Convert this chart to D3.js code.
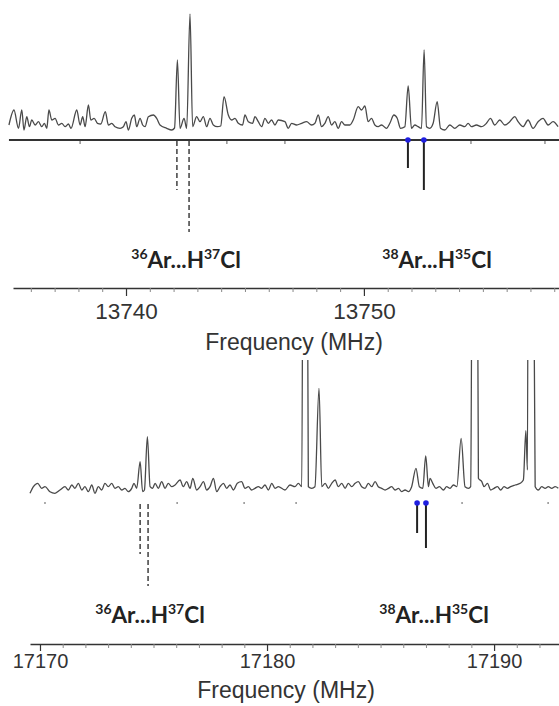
<!DOCTYPE html>
<html>
<head>
<meta charset="utf-8">
<script src="https://cdn.jsdelivr.net/npm/d3@7/dist/d3.min.js"></script>
<style>
body { margin: 0; background: #fff; }
svg { display: block; }
</style>
</head>
<body>
<script>
// spectrum near 13.74 GHz : [frequency MHz, intensity]
var topSpectrum = [
  [13735.08,1.5],[13735.29,3.0],[13735.48,1.17],[13735.62,3.0],[13735.71,1.0],[13735.83,2.33],
  [13735.94,1.33],[13736.04,2.0],[13736.18,1.5],[13736.32,1.83],[13736.46,1.33],[13736.57,1.67],
  [13736.67,1.17],[13736.76,3.0],[13736.88,2.0],[13737.02,2.17],[13737.16,1.5],[13737.30,1.67],
  [13737.44,1.33],[13737.58,1.6],[13737.69,1.17],[13737.93,3.0],[13738.07,1.5],[13738.18,2.33],
  [13738.28,1.33],[13738.42,3.5],[13738.52,2.0],[13738.66,2.17],[13738.80,1.67],[13738.94,1.6],
  [13739.13,2.83],[13739.26,1.5],[13739.40,1.67],[13739.54,1.33],[13739.75,1.17],[13739.89,1.33],
  [13740.00,1.83],[13740.10,1.0],[13740.24,2.17],[13740.35,2.5],[13740.45,1.33],[13740.59,2.17],
  [13740.70,1.5],[13740.80,1.33],[13740.94,2.33],[13741.15,2.5],[13741.29,2.17],[13741.43,1.5],
  [13741.71,1.17],[13741.92,1.0],[13742.04,1.2],[13742.16,8.0],[13742.27,1.17],[13742.44,2.17],
  [13742.55,1.17],[13742.69,12.6],[13742.80,1.33],[13742.97,2.33],[13743.11,1.83],[13743.25,2.33],
  [13743.39,1.33],[13743.53,2.17],[13743.67,1.5],[13743.84,1.33],[13743.98,1.4],[13744.12,4.33],
  [13744.30,2.5],[13744.44,2.0],[13744.58,2.17],[13744.72,1.67],[13744.90,1.5],[13745.00,2.5],
  [13745.14,1.83],[13745.32,1.67],[13745.42,2.33],[13745.56,1.83],[13745.70,1.33],[13745.84,2.17],
  [13745.98,1.67],[13746.12,2.0],[13746.26,1.5],[13746.40,2.0],[13746.68,1.83],[13746.82,1.17],
  [13746.96,1.67],[13747.17,1.5],[13747.38,1.67],[13747.59,1.83],[13747.80,1.5],[13747.94,1.67],
  [13748.08,2.5],[13748.22,1.33],[13748.36,1.67],[13748.50,2.33],[13748.64,1.5],[13748.78,1.83],
  [13748.92,1.17],[13749.06,1.83],[13749.20,1.5],[13749.41,1.5],[13749.55,2.0],[13749.76,3.33],
  [13749.90,3.0],[13750.04,3.4],[13750.18,1.83],[13750.32,2.17],[13750.46,1.5],[13750.60,1.33],
  [13750.74,1.5],[13750.95,1.17],[13751.09,1.67],[13751.26,2.5],[13751.40,2.17],[13751.54,1.17],
  [13751.72,1.33],[13751.86,5.4],[13752.00,1.17],[13752.14,1.5],[13752.28,1.33],[13752.42,1.17],
  [13752.53,9.0],[13752.63,1.33],[13752.77,1.17],[13752.91,1.67],[13753.08,3.83],[13753.22,1.17],
  [13753.40,1.0],[13753.61,1.5],[13753.82,1.17],[13754.03,1.5],[13754.24,1.33],[13754.38,1.67],
  [13754.52,1.33],[13754.73,1.5],[13754.94,1.33],[13755.15,1.67],[13755.32,2.17],[13755.50,1.5],
  [13755.71,2.0],[13755.92,1.5],[13756.13,1.83],[13756.34,2.33],[13756.48,1.83],[13756.69,1.33],
  [13756.90,2.0],[13757.11,1.17],[13757.32,1.83],[13757.53,2.17],[13757.74,1.5],[13757.95,1.83],
  [13758.16,1.33]
];

// spectrum near 17.18 GHz (values of 40 are off scale, cut at the top)
var bottomSpectrum = [
  [17169.56,0.97],[17169.71,1.63],[17169.90,1.97],[17170.07,1.47],[17170.22,1.63],[17170.44,1.13],
  [17170.66,0.97],[17170.88,1.3],[17171.10,1.63],[17171.25,1.3],[17171.40,1.8],[17171.54,1.47],
  [17171.69,1.97],[17171.84,1.3],[17171.98,1.63],[17172.13,1.13],[17172.28,1.8],[17172.42,0.97],
  [17172.57,1.63],[17172.72,1.3],[17172.86,1.97],[17173.01,1.63],[17173.16,1.97],[17173.30,1.47],
  [17173.45,1.63],[17173.60,1.3],[17173.74,1.47],[17173.89,1.13],[17174.04,1.47],[17174.14,1.97],
  [17174.26,1.47],[17174.41,4.13],[17174.52,1.13],[17174.60,1.3],[17174.73,6.63],[17174.85,1.63],
  [17174.96,1.47],[17175.07,1.97],[17175.21,1.47],[17175.36,2.13],[17175.51,1.47],[17175.65,1.97],
  [17175.80,1.63],[17175.95,1.8],[17176.17,2.3],[17176.31,1.63],[17176.46,2.13],[17176.61,1.47],
  [17176.73,2.47],[17176.90,1.3],[17177.05,1.63],[17177.20,2.13],[17177.34,1.3],[17177.49,1.63],
  [17177.64,2.47],[17177.78,1.13],[17177.93,1.63],[17178.08,1.97],[17178.22,1.47],[17178.37,1.8],
  [17178.52,1.3],[17178.69,1.97],[17178.88,2.13],[17179.03,1.47],[17179.18,1.63],[17179.32,1.3],
  [17179.47,1.47],[17179.62,1.63],[17179.76,1.47],[17179.91,1.8],[17180.06,1.3],[17180.21,1.97],
  [17180.35,1.47],[17180.50,1.63],[17180.79,1.3],[17181.01,1.8],[17181.23,1.63],[17181.38,1.97],
  [17181.53,1.63],[17181.60,40],[17181.75,40],[17181.82,1.63],[17181.97,1.47],[17182.11,1.63],
  [17182.29,11.47],[17182.41,1.63],[17182.56,1.97],[17182.70,1.47],[17182.85,1.97],[17183.00,2.3],
  [17183.14,1.63],[17183.29,1.97],[17183.44,1.47],[17183.58,1.97],[17183.73,1.63],[17183.88,1.97],
  [17184.02,2.13],[17184.17,1.63],[17184.32,1.47],[17184.46,1.97],[17184.61,1.63],[17184.76,2.13],
  [17184.90,1.63],[17185.05,1.47],[17185.20,1.3],[17185.35,1.47],[17185.49,1.63],[17185.64,1.3],
  [17185.79,1.47],[17185.93,1.13],[17186.08,1.3],[17186.23,1.13],[17186.37,1.63],[17186.56,3.47],
  [17186.71,1.63],[17186.86,1.47],[17186.99,4.7],[17187.11,1.63],[17187.18,2.47],[17187.30,1.97],
  [17187.44,1.47],[17187.59,1.63],[17187.77,1.3],[17187.91,1.63],[17188.06,1.47],[17188.21,1.8],
  [17188.36,1.63],[17188.55,6.47],[17188.72,1.63],[17188.87,1.47],[17188.97,1.63],[17189.06,40],
  [17189.24,40],[17189.31,2.47],[17189.46,2.13],[17189.56,1.63],[17189.71,1.97],[17189.85,1.3],
  [17190.00,1.47],[17190.15,1.63],[17190.29,1.3],[17190.44,1.63],[17190.59,1.47],[17190.73,1.63],
  [17190.93,1.8],[17191.15,1.97],[17191.29,2.3],[17191.40,7.23],[17191.47,3.3],[17191.51,40],
  [17191.70,40],[17191.81,1.63],[17191.95,1.3],[17192.10,1.63],[17192.25,1.47],[17192.39,1.63],
  [17192.54,1.47],[17192.69,1.63],[17192.83,1.47]
];

// predicted lines (frequency, intensity) drawn downward
var topSticks36 = [[13742.14,5.0],[13742.65,9.2]];
var topSticks38 = [[13751.85,2.8],[13752.52,5.0]];
var bottomSticks36 = [[17174.41,5.1],[17174.76,8.3]];
var bottomSticks38 = [[17186.61,3.0],[17187.00,4.5]];

// axes
var topMajor = [13740, 13750];
var topMinor = d3.range(13736, 13759);
var bottomMajor = [17170, 17180, 17190];
var bottomMinor = d3.range(17170, 17193);
var topBaseMarks = [13738.07, 13744.24, 13746.68, 13754.50, 13757.61];
var bottomBaseMarks = [17170.22, 17176.04, 17178.99, 17181.28, 17188.59, 17192.38];
var axisTitle = "Frequency (MHz)";
var species36 = ["36", "Ar...H", "37", "Cl"];
var species38 = ["38", "Ar...H", "35", "Cl"];

var W = 559, H = 706;
var svg = d3.select("body").append("svg").attr("width", W).attr("height", H);
svg.append("rect").attr("width", W).attr("height", H).attr("fill", "#fff");

svg.append("clipPath").attr("id", "clipBottom")
  .append("rect").attr("x", 0).attr("y", 360).attr("width", W).attr("height", H - 360);

function speciesLabel(g, cx, baseline, parts) {
  var t = g.append("text")
    .attr("x", cx).attr("y", baseline)
    .attr("text-anchor", "middle")
    .style("font-family", "Lato, 'Open Sans', sans-serif")
    .style("font-weight", "bold")
    .style("fill", "#222");
  t.append("tspan").style("font-size", "14px").attr("dy", -9).text(parts[0]);
  t.append("tspan").style("font-size", "22.5px").attr("dy", 9).text(parts[1]);
  t.append("tspan").style("font-size", "14px").attr("dy", -9).text(parts[2]);
  t.append("tspan").style("font-size", "22.5px").attr("dy", 9).text(parts[3]);
}

function drawPanel(p) {
  var g = svg.append("g");
  var x = d3.scaleLinear().domain(p.domain).range(p.range);
  var y = d3.scaleLinear().domain([0, 10]).range([p.baseY, p.baseY - 100]);

  // zero line of stick spectrum
  if (p.baseLine) {
    g.append("line")
      .attr("x1", x(p.data[0][0])).attr("x2", W)
      .attr("y1", p.baseY).attr("y2", p.baseY)
      .attr("stroke", "#333").attr("stroke-width", 2);
  }
  g.selectAll(".bm").data(p.baseMarks).enter().append("line")
    .attr("x1", d => x(d)).attr("x2", d => x(d))
    .attr("y1", p.baseY + (p.baseLine ? 1 : -1)).attr("y2", p.baseY + (p.baseLine ? 4 : 1))
    .attr("stroke", "#777").attr("stroke-width", 1.2);

  // spectrum trace
  var line = d3.line().curve(d3.curveMonotoneX).x(d => x(d[0])).y(d => y(d[1]));
  var path = g.append("path").datum(p.data)
    .attr("d", line)
    .attr("fill", "none")
    .attr("stroke", "#4a4a4a")
    .attr("stroke-width", 1.3)
    .attr("stroke-linejoin", "round");
  if (p.clip) path.attr("clip-path", "url(#" + p.clip + ")");

  // dashed sticks (36Ar...H37Cl)
  g.selectAll(".s36").data(p.sticks36).enter().append("line")
    .attr("x1", d => x(d[0])).attr("x2", d => x(d[0]))
    .attr("y1", p.baseY + 1).attr("y2", d => y(-d[1]))
    .attr("stroke", "#222").attr("stroke-width", 1.3)
    .attr("stroke-dasharray", "5,3");

  // solid sticks with blue dot (38Ar...H35Cl)
  g.selectAll(".s38").data(p.sticks38).enter().append("line")
    .attr("x1", d => x(d[0])).attr("x2", d => x(d[0]))
    .attr("y1", p.baseY).attr("y2", d => y(-d[1]))
    .attr("stroke", "#222").attr("stroke-width", 2);
  g.selectAll(".d38").data(p.sticks38).enter().append("circle")
    .attr("cx", d => x(d[0])).attr("cy", p.baseY).attr("r", 2.8)
    .attr("fill", "#1f1fe0");

  speciesLabel(g, p.label36X, p.labelY, species36);
  speciesLabel(g, p.label38X, p.labelY, species38);

  // frequency axis
  var ax = g.append("g").attr("transform", "translate(0," + p.axisY + ")");
  ax.call(d3.axisBottom(x).tickValues(p.minor).tickSize(4).tickSizeOuter(0).tickFormat(""));
  var axM = g.append("g").attr("transform", "translate(0," + p.axisY + ")");
  axM.call(d3.axisBottom(x).tickValues(p.major).tickSize(p.majorLen).tickSizeOuter(0)
    .tickFormat(d3.format("d")));
  axM.select(".domain").remove();
  ax.select(".domain").attr("stroke", "#333").attr("stroke-width", 1.6);
  ax.selectAll(".tick line").attr("stroke", "#888");
  axM.selectAll(".tick line").attr("stroke", "#333").attr("stroke-width", 1.2);
  axM.selectAll(".tick text")
    .attr("y", p.tickTextDy).attr("dy", 0)
    .style("font-family", "'Liberation Sans', Arial, sans-serif")
    .style("font-size", p.tickFont + "px")
    .style("fill", "#333");

  g.append("text")
    .attr("x", p.titleX).attr("y", p.titleY)
    .attr("text-anchor", "middle")
    .style("font-family", "'Liberation Sans', Arial, sans-serif")
    .style("font-size", "23px")
    .style("fill", "#333")
    .text(axisTitle);
}

drawPanel({
  data: topSpectrum, domain: [13735.25, 13758.2], range: [13, 559],
  baseY: 140, baseLine: true, baseMarks: topBaseMarks,
  sticks36: topSticks36, sticks38: topSticks38,
  label36X: 186, label38X: 437, labelY: 268,
  axisY: 288, major: topMajor, minor: topMinor, majorLen: 8,
  tickTextDy: 31, tickFont: 22.5, titleX: 294, titleY: 350
});

drawPanel({
  data: bottomSpectrum, domain: [17169.56, 17192.86], range: [30, 559],
  baseY: 503, baseLine: false, baseMarks: bottomBaseMarks, clip: "clipBottom",
  sticks36: bottomSticks36, sticks38: bottomSticks38,
  label36X: 150, label38X: 434, labelY: 623,
  axisY: 644, major: bottomMajor, minor: bottomMinor, majorLen: 7,
  tickTextDy: 24, tickFont: 20, titleX: 286, titleY: 698
});
</script>
</body>
</html>
